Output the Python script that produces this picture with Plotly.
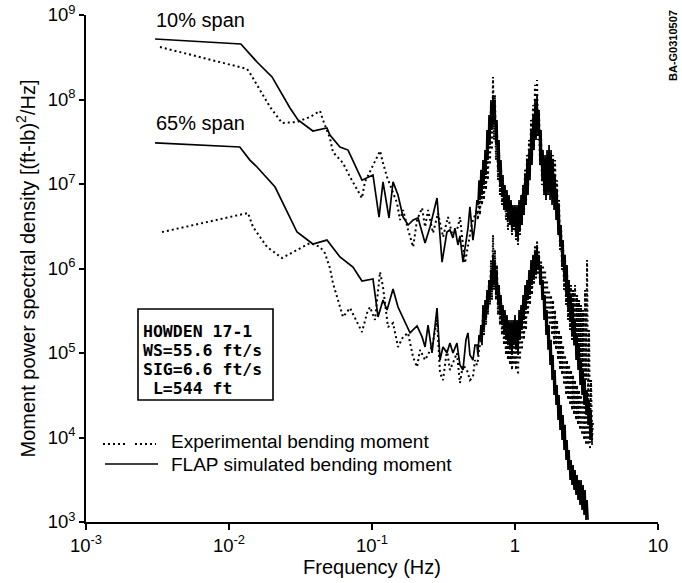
import plotly.graph_objects as go

# ---------------- data ----------------
# shared fine frequency grid of the dense high-frequency part (Hz)
f_hi = [0.542, 0.551, 0.560, 0.569, 0.578, 0.588, 0.597, 0.607, 0.617, 0.627,
        0.637, 0.647, 0.658, 0.668, 0.679, 0.690, 0.702, 0.713, 0.724, 0.736,
        0.748, 0.760, 0.773, 0.785, 0.798, 0.811, 0.824, 0.838, 0.851, 0.865,
        0.879, 0.893, 0.908, 0.923, 0.938, 0.953, 0.968, 0.984, 1.000, 1.016,
        1.033, 1.050, 1.067, 1.084, 1.102, 1.119, 1.138, 1.156, 1.175, 1.194,
        1.213, 1.233, 1.253, 1.273, 1.294, 1.315, 1.337, 1.358, 1.380, 1.403,
        1.426, 1.449, 1.472, 1.496, 1.521, 1.545, 1.570, 1.596, 1.622, 1.648,
        1.675, 1.702, 1.730, 1.758, 1.787, 1.816, 1.845, 1.875, 1.906, 1.936,
        1.968, 2.000, 2.032, 2.065, 2.099, 2.133, 2.168, 2.203, 2.239, 2.275,
        2.312, 2.350, 2.388, 2.427, 2.466, 2.506, 2.547, 2.588, 2.630, 2.673,
        2.716, 2.761, 2.805, 2.851, 2.897, 2.944, 2.992, 3.041, 3.090, 3.140,
        3.191, 3.243, 3.296, 3.349, 3.404, 3.459, 3.515]

# 10% span, FLAP simulated bending moment
flap10_f_lo = [0.00304, 0.0121, 0.0157, 0.0200, 0.0267, 0.0304, 0.0386, 0.0484, 0.0508, 0.0597,
               0.0680, 0.0851, 0.1016, 0.112, 0.1194, 0.1315, 0.1403, 0.152, 0.165, 0.179,
               0.194, 0.210, 0.235, 0.2545, 0.285, 0.309, 0.334, 0.351, 0.368, 0.380,
               0.399, 0.412, 0.433, 0.454, 0.469, 0.484, 0.508, 0.525]
flap10_p_lo = [5.2e8, 4.54e8, 2.78e8, 1.85e8, 7.93e7, 5.72e7, 4.24e7, 4.60e7, 3.80e7, 2.74e7,
               2.52e7, 1.11e7, 1.28e7, 4.06e6, 1.06e7, 3.96e6, 1.06e7, 7.41e6, 4.06e6, 3.27e6,
               3.75e6, 3.96e6, 2.00e6, 3.10e6, 6.82e6, 1.19e6, 2.70e6, 2.86e6, 2.30e6, 3.01e6,
               1.90e6, 2.43e6, 1.19e6, 2.17e6, 3.01e6, 5.35e6, 2.17e6, 3.27e6]
flap10_p_hi = [6.47e6, 5.64e6, 1.11e7, 6.47e6, 1.47e7, 7.41e6, 1.92e7, 9.73e6, 2.52e7, 1.28e7,
               4.36e7, 1.92e7, 6.56e7, 2.90e7, 9.86e7, 4.36e7, 1.13e8, 4.99e7, 9.86e7, 2.90e7,
               5.72e7, 1.47e7, 3.32e7, 9.73e6, 1.92e7, 7.41e6, 1.28e7, 4.92e6, 9.73e6, 4.92e6,
               8.49e6, 3.75e6, 7.41e6, 3.27e6, 6.47e6, 2.86e6, 5.64e6, 3.27e6, 5.64e6, 2.49e6,
               5.64e6, 2.17e6, 6.47e6, 2.86e6, 7.41e6, 3.27e6, 9.73e6, 4.30e6, 1.28e7, 5.64e6,
               1.92e7, 7.41e6, 2.52e7, 1.11e7, 4.36e7, 1.68e7, 6.56e7, 2.52e7, 9.86e7, 3.32e7,
               1.13e8, 3.80e7, 7.51e7, 1.68e7, 4.36e7, 1.11e7, 2.52e7, 7.41e6, 2.20e7, 6.47e6,
               2.52e7, 7.41e6, 2.90e7, 6.47e6, 2.52e7, 5.64e6, 1.92e7, 4.92e6, 1.28e7, 3.75e6,
               8.49e6, 2.49e6, 5.64e6, 1.90e6, 3.27e6, 1.10e6, 2.17e6, 7.31e5, 1.45e6, 4.86e5,
               1.10e6, 3.23e5, 7.31e5, 2.46e5, 4.86e5, 1.63e5, 3.70e5, 1.24e5, 2.46e5, 8.26e4,
               1.63e5, 6.29e4, 1.24e5, 4.18e4, 8.26e4, 3.18e4, 6.29e4, 2.42e4, 4.79e4, 1.85e4,
               3.65e4, 1.41e4, 2.78e4, 9.33e3, 2.11e4, 8.15e3, None]

# 10% span, experimental bending moment
exp10_f_lo = [0.00329, 0.01336, 0.0140, 0.01648, 0.01936, 0.0235, 0.0299, 0.0368, 0.0433, 0.0454,
              0.0508, 0.0533, 0.0627, 0.0702, 0.0785, 0.0851, 0.0893, 0.100, 0.1084, 0.1138,
              0.1194, 0.1274, 0.1380, 0.1496, 0.157, 0.165, 0.179, 0.194, 0.2065, 0.224,
              0.235, 0.2466, 0.2671, 0.2895, 0.314, 0.340, 0.368, 0.399, 0.412, 0.447, 0.500]
exp10_p_lo = [4.18e8, 2.30e8, 2.06e8, 1.30e8, 8.15e7, 5.27e7, 5.42e7, 6.21e7, 7.31e7, 5.72e7,
              3.50e7, 2.39e7, 1.77e7, 1.21e7, 8.49e6, 6.82e6, 1.06e7, 1.55e7, 2.09e7, 2.46e7,
              1.77e7, 1.21e7, 8.49e6, 5.96e6, 3.75e6, 4.92e6, 2.86e6, 1.80e6, 3.75e6, 5.20e6,
              3.10e6, 4.92e6, 2.63e6, 4.54e6, 2.36e6, 4.06e6, 2.36e6, 3.10e6, 4.06e6, 1.16e6, 3.45e6]
exp10_p_hi = [4.92e6, 3.75e6, 7.41e6, 4.30e6, 9.73e6, 5.64e6, 1.28e7, 6.47e6, 1.68e7, 8.49e6,
              2.52e7, 1.11e7, 4.36e7, 1.68e7, 8.61e7, 2.52e7, 1.85e8, 3.32e7, 1.13e8, 1.92e7,
              4.99e7, 1.11e7, 2.52e7, 7.41e6, 1.68e7, 5.64e6, 1.11e7, 4.92e6, 7.41e6, 3.75e6,
              6.47e6, 2.86e6, 5.64e6, 3.27e6, 4.92e6, 2.49e6, 4.30e6, 2.86e6, 4.30e6, 2.17e6,
              3.75e6, 1.90e6, 4.92e6, 2.49e6, 6.47e6, 3.27e6, 9.73e6, 4.30e6, 1.47e7, 5.64e6,
              2.20e7, 8.49e6, 3.32e7, 1.28e7, 5.72e7, 1.92e7, 8.61e7, 2.52e7, 1.49e8, 4.36e7,
              1.70e8, 3.32e7, 7.51e7, 1.68e7, 3.80e7, 9.73e6, 2.20e7, 7.41e6, 1.68e7, 6.47e6,
              1.92e7, 7.41e6, 1.68e7, 7.41e6, 1.92e7, 8.49e6, 2.20e7, 7.41e6, 1.92e7, 4.92e6,
              1.11e7, 2.86e6, 6.47e6, 1.66e6, 3.27e6, 9.60e5, 1.90e6, 5.57e5, 1.26e6, 3.70e5,
              9.60e5, 2.46e5, 7.31e5, 1.87e5, 6.38e5, 1.43e5, 5.57e5, 1.24e5, 6.38e5, 1.09e5,
              4.86e5, 8.26e4, 4.24e5, 7.21e4, 3.70e5, 5.49e4, 3.23e5, 4.18e4, 5.57e5, 4.79e4,
              1.26e6, 2.78e4, 1.87e5, 1.23e4, 4.79e4, 9.33e3, 1.61e4]

# 65% span, FLAP simulated bending moment
flap65_f_lo = [0.00304, 0.0119, 0.0140, 0.0157, 0.0210, 0.0299, 0.0386, 0.0484, 0.0597, 0.0736,
               0.0851, 0.1016, 0.1102, 0.1194, 0.1274, 0.1403, 0.152, 0.1845, 0.2065, 0.224,
               0.235, 0.2466, 0.2628, 0.2849, 0.299, 0.3137, 0.3344, 0.3508, 0.3681, 0.3926,
               0.4121, 0.4327, 0.4539, 0.4688, 0.4842, 0.5082, 0.5248]
flap65_p_lo = [3.06e7, 2.74e7, 1.92e7, 1.59e7, 9.21e6, 2.70e6, 1.95e6, 2.17e6, 1.37e6, 1.04e6,
               7.11e5, 7.51e5, 2.67e5, 4.24e5, 3.23e5, 5.71e5, 3.50e5, 1.73e5, 2.09e5, 1.55e5,
               1.18e5, 2.14e5, 1.00e5, 3.41e5, 8.26e4, 1.18e5, 1.00e5, 1.31e5, 1.00e5, 1.31e5,
               7.21e4, 6.29e4, 1.43e5, 1.73e5, 9.47e4, 8.26e4, 1.24e5]
flap65_p_hi = [1.24e5, 9.47e4, 1.63e5, 1.43e5, 2.14e5, 1.24e5, 3.70e5, 1.87e5, 4.24e5, 2.46e5,
               5.57e5, 3.23e5, 7.31e5, 4.24e5, 9.60e5, 5.57e5, 1.45e6, 6.38e5, 1.26e6, 4.86e5,
               9.60e5, 3.70e5, 6.38e5, 2.82e5, 4.86e5, 2.14e5, 3.70e5, 1.63e5, 3.23e5, 1.43e5,
               2.82e5, 1.24e5, 2.46e5, 1.09e5, 2.46e5, 9.47e4, 2.46e5, 1.24e5, 2.82e5, 1.09e5,
               2.46e5, 9.47e4, 3.23e5, 1.43e5, 3.70e5, 1.87e5, 4.86e5, 2.46e5, 6.38e5, 3.23e5,
               7.31e5, 4.24e5, 9.60e5, 4.86e5, 1.26e6, 6.38e5, 1.45e6, 7.31e5, 1.66e6, 8.37e5,
               1.90e6, 9.60e5, 1.45e6, 6.38e5, 1.10e6, 4.24e5, 7.31e5, 2.46e5, 4.86e5, 1.63e5,
               3.23e5, 1.09e5, 2.14e5, 7.21e4, 1.43e5, 4.79e4, 9.47e4, 3.18e4, 6.29e4, 2.42e4,
               4.18e4, 1.61e4, 3.18e4, 1.23e4, 2.42e4, 9.33e3, 1.85e4, 7.11e3, 1.41e4, 5.42e3,
               9.33e3, 4.12e3, 7.11e3, 3.14e3, 5.42e3, 2.74e3, 4.73e3, 2.39e3, 4.12e3, 2.09e3,
               3.60e3, 1.82e3, 3.14e3, 1.59e3, 3.14e3, 1.39e3, 2.74e3, 1.21e3, 2.39e3, 1.06e3,
               1.82e3, 1.06e3, None, None, None, None, None]

# 65% span, experimental bending moment
exp65_f_lo = [0.0034, 0.01358, 0.01472, 0.01845, 0.0235, 0.0299, 0.0368, 0.0433, 0.0469, 0.0508,
              0.0533, 0.0578, 0.0627, 0.0702, 0.0760, 0.0851, 0.0923, 0.0968, 0.1050, 0.1138,
              0.1194, 0.1294, 0.1403, 0.1521, 0.1648, 0.1786, 0.1936, 0.2065, 0.2168, 0.2350,
              0.2628, 0.2849, 0.299, 0.3137, 0.3344, 0.3508, 0.3681, 0.3926, 0.4121, 0.4327,
              0.4613, 0.4842, 0.5082, 0.5248]
exp65_p_lo = [2.70e6, 4.54e6, 3.10e6, 1.80e6, 1.33e6, 1.66e6, 2.00e6, 1.80e6, 1.52e6, 1.01e6,
              6.73e5, 4.24e5, 2.67e5, 3.41e5, 2.59e5, 1.77e5, 2.97e5, 3.50e5, 2.46e5, 9.10e5,
              6.04e5, 2.03e5, 2.26e5, 1.18e5, 1.55e5, 1.73e5, 8.97e4, 6.83e4, 1.09e5, 8.26e4,
              1.18e5, 2.46e5, 5.79e4, 4.79e4, 1.09e5, 6.29e4, 7.62e4, 1.00e5, 4.42e4, 7.21e4,
              6.29e4, 4.79e4, 5.20e4, 8.26e4]
exp65_p_hi = [7.21e4, 8.26e4, 1.09e5, 1.24e5, 1.87e5, 1.43e5, 2.82e5, 1.63e5, 3.70e5, 2.14e5,
              4.86e5, 2.82e5, 7.31e5, 3.70e5, 1.26e6, 4.24e5, 2.49e6, 5.57e5, 1.66e6, 4.24e5,
              1.10e6, 2.82e5, 6.38e5, 2.14e5, 4.24e5, 1.63e5, 2.82e5, 1.24e5, 2.14e5, 9.47e4,
              1.87e5, 8.26e4, 1.87e5, 7.21e4, 1.63e5, 6.29e4, 1.43e5, 7.21e4, 1.63e5, 6.29e4,
              1.43e5, 5.49e4, 1.87e5, 8.26e4, 2.46e5, 1.09e5, 3.70e5, 1.43e5, 4.86e5, 1.87e5,
              6.38e5, 2.82e5, 8.37e5, 3.70e5, 1.10e6, 4.86e5, 1.45e6, 6.38e5, 1.90e6, 7.31e5,
              2.17e6, 8.37e5, 1.66e6, 6.38e5, 1.26e6, 4.86e5, 1.10e6, 3.70e5, 9.60e5, 3.23e5,
              7.31e5, 2.46e5, 5.57e5, 2.14e5, 4.86e5, 1.63e5, 4.24e5, 1.24e5, 3.23e5, 1.09e5,
              2.46e5, 8.26e4, 1.87e5, 6.29e4, 1.63e5, 5.49e4, 1.24e5, 4.18e4, 9.47e4, 3.18e4,
              8.26e4, 2.78e4, 7.21e4, 2.42e4, 6.29e4, 2.11e4, 5.49e4, 1.85e4, 4.79e4, 1.61e4,
              4.18e4, 1.41e4, 3.65e4, 1.23e4, 3.18e4, 1.07e4, 2.78e4, 9.33e3, 2.42e4, 8.15e3,
              2.11e4, 8.15e3, 1.85e4, 7.11e3, None, None, None]

x_tickvals = [1e-3, 1e-2, 1e-1, 1, 10]
x_ticktext = ["10<sup>-3</sup>", "10<sup>-2</sup>", "10<sup>-1</sup>", "1", "10"]
y_tickvals = [1e3, 1e4, 1e5, 1e6, 1e7, 1e8, 1e9]
y_ticktext = ["10<sup>3</sup>", "10<sup>4</sup>", "10<sup>5</sup>", "10<sup>6</sup>",
              "10<sup>7</sup>", "10<sup>8</sup>", "10<sup>9</sup>"]
box_lines = ["HOWDEN 17-1", "WS=55.6 ft/s", "SIG=6.6 ft/s", " L=544 ft"]
legend_labels = ["Experimental bending moment", "FLAP simulated bending moment"]

for hi in (flap10_p_hi, exp10_p_hi, flap65_p_hi, exp65_p_hi):
    assert len(hi) == len(f_hi), len(hi)
assert len(flap10_f_lo) == len(flap10_p_lo)
assert len(exp10_f_lo) == len(exp10_p_lo)
assert len(flap65_f_lo) == len(flap65_p_lo)
assert len(exp65_f_lo) == len(exp65_p_lo)

# ---------------- figure ----------------
FONT = "Liberation Sans, Arial, Helvetica, sans-serif"
MONO = "DejaVu Sans Mono, Liberation Mono, monospace"
DOT = "2px,3px"

fig = go.Figure()


def add_series(f_lo, p_lo, p_hi, dotted):
    fig.add_trace(go.Scatter(
        x=list(f_lo) + list(f_hi), y=list(p_lo) + list(p_hi), mode="lines",
        line=dict(color="black", width=2.0 if dotted else 1.7,
                  dash=DOT if dotted else "solid"),
        connectgaps=False, showlegend=False, hoverinfo="skip"))


add_series(exp10_f_lo, exp10_p_lo, exp10_p_hi, True)
add_series(exp65_f_lo, exp65_p_lo, exp65_p_hi, True)
add_series(flap10_f_lo, flap10_p_lo, flap10_p_hi, False)
add_series(flap65_f_lo, flap65_p_lo, flap65_p_hi, False)

# plot area in pixels: x 86..658, y 15..522
L, R, T, B = 86, 658, 15, 522


def px(x):
    return (x - L) / (R - L)


def py(y):
    return (B - y) / (B - T)


anns = []
for text, ypx in (("10% span", 20), ("65% span", 123)):
    anns.append(dict(xref="paper", yref="paper", x=px(200), y=py(ypx), text=text,
                     showarrow=False, xanchor="center", yanchor="middle",
                     font=dict(family=FONT, size=20, color="black")))
for line, ypx in zip(box_lines, [331, 350, 369, 388]):
    anns.append(dict(xref="paper", yref="paper", x=px(141), y=py(ypx), text=line.replace(" ", "&nbsp;"),
                     showarrow=False, xanchor="left", yanchor="middle",
                     font=dict(family=MONO, size=16.5, color="black", weight="bold")))
for lab, ypx in zip(legend_labels, [441, 464]):
    anns.append(dict(xref="paper", yref="paper", x=px(170), y=py(ypx), text=lab,
                     showarrow=False, xanchor="left", yanchor="middle", borderpad=0,
                     font=dict(family=FONT, size=19, color="black")))
anns.append(dict(xref="paper", yref="paper", x=px(673), y=py(46), text="BA-G0310507",
                 showarrow=False, textangle=-90, xanchor="center", yanchor="middle",
                 font=dict(family=FONT, size=11, color="black", weight="bold")))

shapes = [
    dict(type="rect", xref="paper", yref="paper", x0=px(138), x1=px(273), y0=py(400), y1=py(309),
         line=dict(color="black", width=1.6)),
    dict(type="line", xref="paper", yref="paper", x0=px(103), x1=px(127), y0=py(444), y1=py(444),
         line=dict(color="black", width=2, dash=DOT)),
    dict(type="line", xref="paper", yref="paper", x0=px(135), x1=px(156), y0=py(444), y1=py(444),
         line=dict(color="black", width=2, dash=DOT)),
    dict(type="line", xref="paper", yref="paper", x0=px(105), x1=px(158), y0=py(464), y1=py(464),
         line=dict(color="black", width=1.7)),
]

fig.update_layout(
    width=682, height=583,
    margin=dict(l=L, r=682 - R, t=T, b=583 - B, autoexpand=False),
    paper_bgcolor="white", plot_bgcolor="white",
    font=dict(family=FONT, size=18, color="black"),
    annotations=anns, shapes=shapes, showlegend=False,
    xaxis=dict(type="log", range=[-3, 1], showgrid=False, zeroline=False,
               showline=True, linecolor="black", linewidth=1.5, mirror=False,
               ticks="outside", ticklen=6, tickwidth=1.5, tickcolor="black",
               tickvals=x_tickvals, ticktext=x_ticktext, tickfont=dict(size=18.5),
               automargin=False,
               title=dict(text="Frequency (Hz)", font=dict(size=20), standoff=5)),
    yaxis=dict(type="log", range=[3, 9], showgrid=False, zeroline=False,
               showline=True, linecolor="black", linewidth=1.5, mirror=False,
               ticks="outside", ticklen=5, tickwidth=1.5, tickcolor="black",
               tickvals=y_tickvals, ticktext=y_ticktext, tickfont=dict(size=18.5),
               automargin=False,
               title=dict(text="Moment power spectral density [(ft-lb)<sup>2</sup>/Hz]",
                          font=dict(size=20), standoff=7)),
)

fig.write_html("out.html")
